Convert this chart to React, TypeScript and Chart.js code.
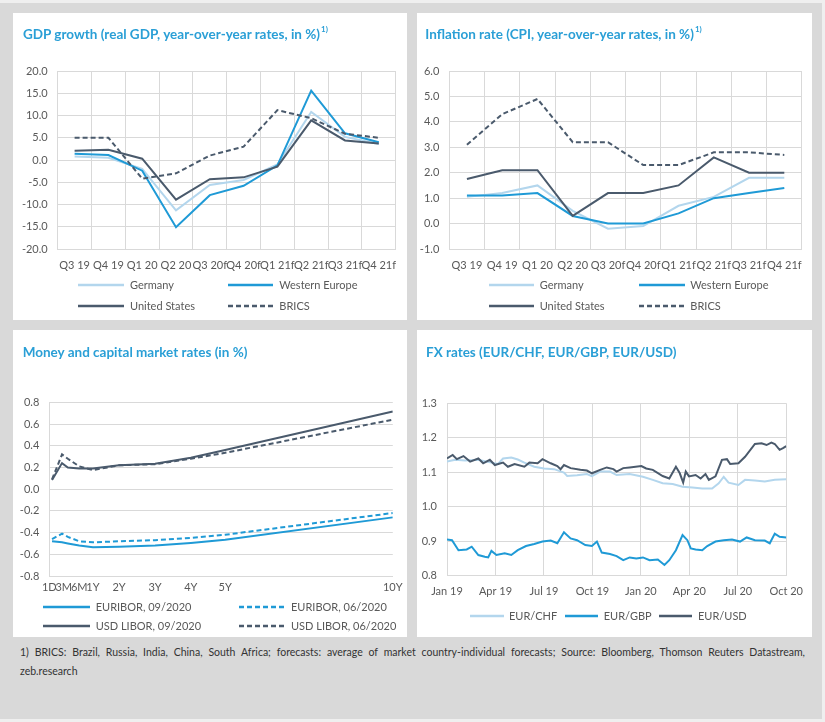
import React, { useEffect, useRef } from "react";
import { Chart, registerables } from "chart.js";

Chart.register(...registerables);

// ---------------- Data ----------------
const quarterLabels = ["Q3 19", "Q4 19", "Q1 20", "Q2 20", "Q3 20f", "Q4 20f", "Q1 21f", "Q2 21f", "Q3 21f", "Q4 21f"];

const gdpGermany = [0.8, 0.5, -2.0, -11.3, -5.6, -4.5, -1.0, 10.8, 5.2, 3.6];
const gdpWesternEurope = [1.4, 1.1, -2.4, -15.1, -7.9, -5.8, -1.2, 15.6, 6.0, 4.0];
const gdpUnitedStates = [2.1, 2.3, 0.3, -8.9, -4.3, -3.9, -1.5, 8.9, 4.4, 3.7];
const gdpBrics = [5.0, 5.0, -4.2, -3.0, 1.0, 3.0, 11.2, 9.4, 5.9, 5.0];

const inflGermany = [1.05, 1.2, 1.5, 0.5, -0.2, -0.1, 0.7, 1.05, 1.8, 1.8];
const inflWesternEurope = [1.1, 1.1, 1.2, 0.3, 0.0, 0.0, 0.4, 1.0, 1.2, 1.4];
const inflUnitedStates = [1.75, 2.1, 2.1, 0.3, 1.2, 1.2, 1.5, 2.6, 2.0, 2.0];
const inflBrics = [3.1, 4.3, 4.9, 3.2, 3.2, 2.3, 2.3, 2.8, 2.8, 2.7];

const maturityLabels = ["1D", "3M", "6M", "1Y", "2Y", "3Y", "4Y", "5Y", "10Y"];
const maturityTickPos = [0, 0.42, 0.87, 1.27, 2.03, 3.08, 4.12, 5.12, 10];
const curvePos = [0.08, 0.37, 0.54, 0.87, 1.27, 2.03, 3.08, 4.12, 5.12, 10];
const euribor092020 = [-0.48, -0.49, -0.5, -0.52, -0.535, -0.53, -0.52, -0.495, -0.465, -0.26];
const euribor062020 = [-0.46, -0.41, -0.44, -0.48, -0.49, -0.48, -0.47, -0.45, -0.42, -0.22];
const usdLibor092020 = [0.085, 0.24, 0.2, 0.19, 0.19, 0.22, 0.235, 0.29, 0.36, 0.715];
const usdLibor062020 = [0.09, 0.32, 0.28, 0.21, 0.175, 0.22, 0.23, 0.28, 0.335, 0.64];

const fxTickLabels = ["Jan 19", "Apr 19", "Jul 19", "Oct 19", "Jan 20", "Apr 20", "Jul 20", "Oct 20"];
// x = months since Jan 2019
const usdMonth = [0, 0.35, 0.61, 1.02, 1.43, 1.94, 2.24, 2.65, 2.96, 3.47, 3.77, 4.18, 4.79, 5.1, 5.61, 5.91, 6.42, 6.83, 7.03, 7.24, 7.65, 8.26, 8.66, 8.97, 9.48, 9.89, 10.3, 10.5, 10.91, 11.31, 12.03, 12.33, 12.74, 13.35, 13.76, 14.17, 14.41, 14.62, 14.78, 14.98, 15.39, 15.7, 16.0, 16.21, 16.62, 17.02, 17.33, 17.53, 18.04, 18.45, 19.06, 19.47, 19.78, 20.08, 20.29, 20.59, 20.8, 21.0];
const usdRate = [1.14, 1.15, 1.138, 1.147, 1.131, 1.14, 1.126, 1.136, 1.121, 1.128, 1.116, 1.124, 1.116, 1.128, 1.126, 1.138, 1.126, 1.118, 1.109, 1.121, 1.112, 1.107, 1.105, 1.097, 1.107, 1.114, 1.109, 1.102, 1.112, 1.114, 1.118, 1.111, 1.107, 1.089, 1.082, 1.116, 1.097, 1.07, 1.102, 1.088, 1.092, 1.082, 1.095, 1.078, 1.088, 1.136, 1.138, 1.124, 1.126, 1.145, 1.182, 1.184, 1.179, 1.186, 1.182, 1.165, 1.17, 1.176];
const chfMonth = [0, 0.51, 1.12, 1.94, 2.75, 3.16, 3.47, 3.98, 4.38, 4.79, 5.4, 6.01, 6.63, 7.24, 7.44, 8.05, 8.66, 8.97, 9.48, 10.09, 10.5, 11.31, 12.13, 12.74, 13.35, 13.97, 14.58, 15.19, 15.8, 16.41, 16.82, 17.13, 17.43, 18.04, 18.45, 19.06, 19.67, 20.29, 21.0];
const chfRate = [1.131, 1.136, 1.134, 1.136, 1.128, 1.124, 1.14, 1.143, 1.137, 1.128, 1.116, 1.111, 1.109, 1.099, 1.089, 1.091, 1.095, 1.089, 1.102, 1.102, 1.092, 1.095, 1.087, 1.078, 1.068, 1.066, 1.058, 1.056, 1.053, 1.053, 1.068, 1.087, 1.07, 1.063, 1.078, 1.076, 1.073, 1.078, 1.08];
const gbpMonth = [0, 0.31, 0.71, 1.22, 1.53, 1.94, 2.34, 2.55, 2.75, 3.06, 3.57, 3.98, 4.38, 4.89, 5.4, 5.91, 6.42, 6.83, 7.24, 7.65, 8.05, 8.56, 8.97, 9.28, 9.58, 10.09, 10.5, 10.91, 11.31, 11.72, 12.13, 12.54, 13.05, 13.46, 13.76, 14.17, 14.58, 14.88, 15.09, 15.39, 15.8, 16.11, 16.62, 17.13, 17.64, 18.14, 18.55, 19.06, 19.67, 19.98, 20.29, 20.59, 21.0];
const gbpRate = [0.905, 0.903, 0.874, 0.876, 0.884, 0.86, 0.855, 0.853, 0.872, 0.86, 0.865, 0.86, 0.874, 0.886, 0.892, 0.899, 0.902, 0.894, 0.926, 0.908, 0.903, 0.889, 0.886, 0.899, 0.867, 0.863, 0.857, 0.845, 0.853, 0.85, 0.853, 0.845, 0.847, 0.831, 0.845, 0.874, 0.918, 0.903, 0.879, 0.876, 0.874, 0.886, 0.899, 0.903, 0.905, 0.899, 0.911, 0.903, 0.902, 0.894, 0.922, 0.913, 0.911];

// ---------------- Styles ----------------
const LIGHT = "#b3d6ed";
const BLUE = "#1f9ad6";
const DARK = "#4a5a6c";
const GRID = "#d9d9d9";
const TICK = "#595959";
const TITLE = "#2a9fd6";
const FONT = "Lato";
const tickFont = { family: FONT, size: 11 };
const DASH = [5, 3];

const fmt1 = (v: any) => (Math.abs(Number(v)) < 1e-9 ? "0.0" : Number(v).toFixed(1));

function lineDs(label: string, data: any[], color: string, dashed = false) {
  return {
    label,
    data,
    borderColor: color,
    backgroundColor: color,
    borderWidth: 2,
    borderDash: dashed ? DASH : [],
    pointRadius: 0,
    tension: 0,
    fill: false,
  };
}

type Geom = { left: number; right: number; top: number; bottom: number; xPad: number };
const X_AXIS_H = 30;

function baseOptions(W: number, H: number, g: Geom) {
  return {
    responsive: false,
    animation: false,
    devicePixelRatio: 1,
    layout: { padding: { left: 0, top: g.top, right: W - g.right, bottom: H - g.bottom - X_AXIS_H } },
    plugins: { legend: { display: false }, tooltip: { enabled: false } },
  };
}

function yAxis(g: Geom, min: number, max: number, step: number) {
  return {
    min,
    max,
    grid: { color: GRID, drawTicks: false },
    border: { color: GRID },
    ticks: { stepSize: step, padding: 10, font: tickFont, color: TICK, callback: fmt1 },
    afterFit: (s: any) => {
      s.width = g.left;
    },
  };
}

function quarterConfig(W: number, H: number, g: Geom, datasets: any[], min: number, max: number, step: number) {
  return {
    type: "line",
    data: { labels: quarterLabels, datasets },
    options: {
      ...baseOptions(W, H, g),
      scales: {
        x: {
          type: "category",
          offset: true,
          grid: { offset: true, color: GRID, drawTicks: false },
          border: { color: GRID },
          ticks: { font: tickFont, color: TICK, padding: g.xPad, maxRotation: 0, minRotation: 0, autoSkip: false },
          afterFit: (s: any) => {
            s.height = X_AXIS_H;
          },
        },
        y: yAxis(g, min, max, step),
      },
    },
  };
}

function gdpConfig(W: number, H: number) {
  const g = { left: 44.7, right: 382.7, top: 58, bottom: 236, xPad: 10 };
  return quarterConfig(
    W,
    H,
    g,
    [
      lineDs("BRICS", gdpBrics, DARK, true),
      lineDs("United States", gdpUnitedStates, DARK),
      lineDs("Western Europe", gdpWesternEurope, BLUE),
      lineDs("Germany", gdpGermany, LIGHT),
    ],
    -20,
    20,
    5
  );
}

function inflConfig(W: number, H: number) {
  const g = { left: 32.3, right: 387.3, top: 58, bottom: 236, xPad: 10 };
  return quarterConfig(
    W,
    H,
    g,
    [
      lineDs("BRICS", inflBrics, DARK, true),
      lineDs("United States", inflUnitedStates, DARK),
      lineDs("Western Europe", inflWesternEurope, BLUE),
      lineDs("Germany", inflGermany, LIGHT),
    ],
    -1,
    6,
    1
  );
}

function ratesConfig(W: number, H: number) {
  const g = { left: 36.3, right: 385.3, top: 72.3, bottom: 246, xPad: 4.4 };
  const pts = (vals: number[]) => curvePos.map((x, i) => ({ x, y: vals[i] }));
  return {
    type: "line",
    data: {
      datasets: [
        lineDs("USD LIBOR, 09/2020", pts(usdLibor092020), DARK),
        lineDs("USD LIBOR, 06/2020", pts(usdLibor062020), DARK, true),
        lineDs("EURIBOR, 09/2020", pts(euribor092020), BLUE),
        lineDs("EURIBOR, 06/2020", pts(euribor062020), BLUE, true),
      ],
    },
    options: {
      ...baseOptions(W, H, g),
      scales: {
        x: {
          type: "linear",
          min: 0,
          max: 10,
          grid: { display: false, drawTicks: false },
          border: { display: true, color: GRID },
          afterBuildTicks: (s: any) => {
            s.ticks = maturityTickPos.map((v) => ({ value: v }));
          },
          ticks: {
            font: tickFont,
            color: TICK,
            padding: g.xPad,
            maxRotation: 0,
            minRotation: 0,
            autoSkip: false,
            callback: (_v: any, i: number) => maturityLabels[i],
          },
          afterFit: (s: any) => {
            s.height = X_AXIS_H;
          },
        },
        y: yAxis(g, -0.8, 0.8, 0.2),
      },
    },
  };
}

function fxConfig(W: number, H: number) {
  const g = { left: 30, right: 374, top: 73.3, bottom: 245.7, xPad: 9 };
  const pts = (xs: number[], ys: number[]) => xs.map((x, i) => ({ x, y: ys[i] }));
  return {
    type: "line",
    data: {
      datasets: [
        lineDs("EUR/USD", pts(usdMonth, usdRate), DARK),
        lineDs("EUR/GBP", pts(gbpMonth, gbpRate), BLUE),
        lineDs("EUR/CHF", pts(chfMonth, chfRate), LIGHT),
      ],
    },
    options: {
      ...baseOptions(W, H, g),
      scales: {
        x: {
          type: "linear",
          min: 0,
          max: 21,
          grid: { color: GRID, drawTicks: false },
          border: { color: GRID },
          ticks: {
            stepSize: 3,
            font: tickFont,
            color: TICK,
            padding: g.xPad,
            maxRotation: 0,
            minRotation: 0,
            autoSkip: false,
            callback: (v: any) => fxTickLabels[Math.round(Number(v) / 3)],
          },
          afterFit: (s: any) => {
            s.height = X_AXIS_H;
          },
        },
        y: yAxis(g, 0.8, 1.3, 0.1),
      },
    },
  };
}

// ---------------- Components ----------------
type LegendItem = { label: string; color: string; dashed?: boolean; x1: number; x2: number; tx: number; y: number };

function Panel(props: {
  left: number;
  top: number;
  width: number;
  height: number;
  title: string;
  sup?: boolean;
  titleX: number;
  titleY: number;
  legend: LegendItem[];
  make: (W: number, H: number) => any;
}) {
  const ref = useRef<HTMLCanvasElement>(null);
  const { left, top, width, height } = props;
  useEffect(() => {
    const chart = new Chart(ref.current as HTMLCanvasElement, props.make(width, height));
    return () => chart.destroy();
  }, []);
  return (
    <div style={{ position: "absolute", left, top, width, height, background: "#ffffff", overflow: "hidden" }}>
      <canvas ref={ref} width={width} height={height} style={{ position: "absolute", left: 0, top: 0, width, height }} />
      <div
        style={{
          position: "absolute",
          left: props.titleX,
          top: props.titleY - 10,
          height: 20,
          lineHeight: "20px",
          fontFamily: FONT,
          fontWeight: 700,
          fontSize: 13.5,
          color: TITLE,
          whiteSpace: "nowrap",
        }}
      >
        {props.title}
        {props.sup ? <span style={{ fontSize: 8, verticalAlign: "top", lineHeight: "12px", position: "relative", top: -1, marginLeft: 1 }}>1)</span> : null}
      </div>
      {props.legend.map((it, i) => (
        <React.Fragment key={i}>
          <svg
            width={it.x2 - it.x1}
            height={6}
            style={{ position: "absolute", left: it.x1, top: it.y - 3 }}
          >
            <line
              x1={0}
              y1={3}
              x2={it.x2 - it.x1}
              y2={3}
              stroke={it.color}
              strokeWidth={2.5}
              strokeDasharray={it.dashed ? "5 3" : undefined}
            />
          </svg>
          <div
            style={{
              position: "absolute",
              left: it.tx,
              top: it.y - 8,
              height: 16,
              lineHeight: "16px",
              fontFamily: FONT,
              fontSize: 11,
              color: TICK,
              whiteSpace: "nowrap",
            }}
          >
            {it.label}
          </div>
        </React.Fragment>
      ))}
    </div>
  );
}

const quarterLegend = (c1: [number, number, number], c2: [number, number, number], y1: number, y2: number): LegendItem[] => [
  { label: "Germany", color: LIGHT, x1: c1[0], x2: c1[1], tx: c1[2], y: y1 },
  { label: "Western Europe", color: BLUE, x1: c2[0], x2: c2[1], tx: c2[2], y: y1 },
  { label: "United States", color: DARK, x1: c1[0], x2: c1[1], tx: c1[2], y: y2 },
  { label: "BRICS", color: DARK, dashed: true, x1: c2[0], x2: c2[1], tx: c2[2], y: y2 },
];

export default function App() {
  return (
    <div style={{ position: "absolute", left: 0, top: 0, width: 825, height: 722, background: "#efefef", overflow: "hidden" }}>
      <div style={{ position: "absolute", left: 0, top: 3, width: 822, height: 716, background: "#d9d9d9" }} />
      <Panel
        left={13}
        top={13}
        width={394}
        height={307}
        title="GDP growth (real GDP, year-over-year rates, in %)"
        sup
        titleX={10}
        titleY={21}
        legend={quarterLegend([65.3, 111.3, 117], [214.7, 260.3, 266.3], 272, 292.7)}
        make={gdpConfig}
      />
      <Panel
        left={417}
        top={13}
        width={395}
        height={307}
        title="Inflation rate (CPI, year-over-year rates, in %)"
        sup
        titleX={8.3}
        titleY={21}
        legend={quarterLegend([71.7, 116.7, 122.7], [221.7, 267.7, 273.3], 272, 292.7)}
        make={inflConfig}
      />
      <Panel
        left={13}
        top={330}
        width={394}
        height={307}
        title="Money and capital market rates (in %)"
        titleX={9.7}
        titleY={21.7}
        legend={[
          { label: "EURIBOR, 09/2020", color: BLUE, x1: 30, x2: 77, tx: 82.7, y: 277.3 },
          { label: "EURIBOR, 06/2020", color: BLUE, dashed: true, x1: 226, x2: 273, tx: 278, y: 277.3 },
          { label: "USD LIBOR, 09/2020", color: DARK, x1: 30, x2: 77, tx: 82.7, y: 296 },
          { label: "USD LIBOR, 06/2020", color: DARK, dashed: true, x1: 226, x2: 273, tx: 278, y: 296 },
        ]}
        make={ratesConfig}
      />
      <Panel
        left={417}
        top={330}
        width={395}
        height={307}
        title="FX rates (EUR/CHF, EUR/GBP, EUR/USD)"
        titleX={9}
        titleY={21.7}
        legend={[
          { label: "EUR/CHF", color: LIGHT, x1: 53, x2: 87, tx: 92, y: 286 },
          { label: "EUR/GBP", color: BLUE, x1: 147.7, x2: 181, tx: 186.7, y: 286 },
          { label: "EUR/USD", color: DARK, x1: 241.7, x2: 275, tx: 281, y: 286 },
        ]}
        make={fxConfig}
      />
      <div
        style={{
          position: "absolute",
          left: 20,
          top: 643,
          width: 785,
          fontFamily: FONT,
          fontSize: 10.5,
          lineHeight: "18px",
          color: "#333333",
          textAlign: "justify",
          textAlignLast: "justify",
        }}
      >
        1) BRICS: Brazil, Russia, India, China, South Africa; forecasts: average of market country-individual forecasts; Source: Bloomberg, Thomson Reuters Datastream,
      </div>
      <div
        style={{
          position: "absolute",
          left: 20,
          top: 662,
          fontFamily: FONT,
          fontSize: 10.5,
          lineHeight: "18px",
          color: "#333333",
          whiteSpace: "nowrap",
        }}
      >
        zeb.research
      </div>
    </div>
  );
}
